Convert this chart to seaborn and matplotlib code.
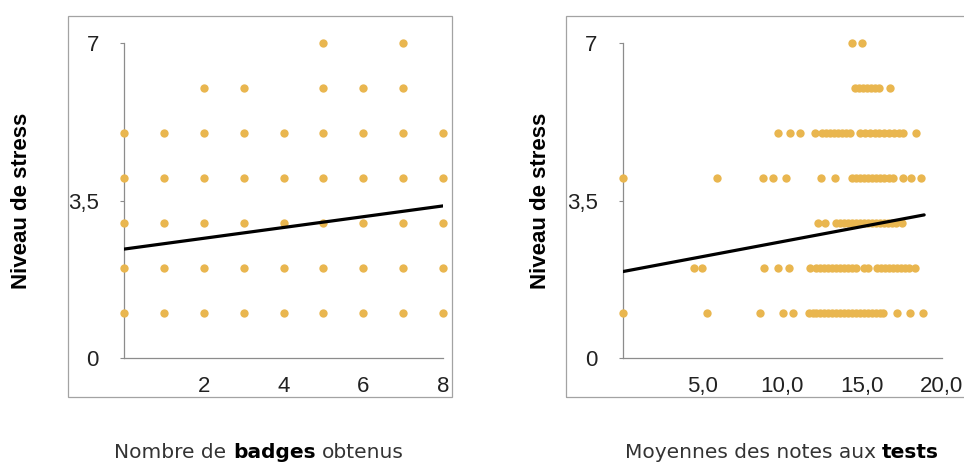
import numpy as np
import pandas as pd
import seaborn as sns
import matplotlib.pyplot as plt
from matplotlib.patches import Rectangle

# --- data ------------------------------------------------------------------
# left panel: badges earned vs stress level (unique points only)
badges_stress1 = [0, 1, 2, 3, 4, 5, 6, 7, 8]
badges_stress2 = [0, 1, 2, 3, 4, 5, 6, 7, 8]
badges_stress3 = [0, 1, 2, 3, 4, 5, 6, 7, 8]
badges_stress4 = [0, 1, 2, 3, 4, 5, 6, 7, 8]
badges_stress5 = [0, 1, 2, 3, 4, 5, 6, 7, 8]
badges_stress6 = [2, 3, 5, 6, 7]
badges_stress7 = [5, 7]
badges_fit_x = [0, 8]
badges_fit_y = [2.42, 3.38]

# right panel: mean test grade vs stress level
tests_stress1 = [0.0, 5.3, 8.6, 10.05, 10.65, 11.65, 11.9, 12.15, 12.4, 12.65,
                 12.9, 13.15, 13.4, 13.65, 13.9, 14.15, 14.4, 14.65, 14.9,
                 15.15, 15.4, 15.65, 15.9, 16.15, 16.35, 17.2, 18.0, 18.85]
tests_stress2 = [4.45, 5.0, 8.85, 9.75, 10.4, 11.75, 12.15, 12.4, 12.65, 12.9,
                 13.15, 13.4, 13.65, 13.9, 14.15, 14.4, 14.65, 15.15, 15.4,
                 15.95, 16.2, 16.45, 16.7, 16.95, 17.2, 17.45, 17.7, 17.95, 18.3]
tests_stress3 = [12.25, 12.7, 13.4, 13.65, 13.9, 14.15, 14.4, 14.65, 14.9,
                 15.15, 15.4, 15.65, 15.9, 16.15, 16.4, 16.65, 16.9, 17.15, 17.5]
tests_stress4 = [0.0, 5.9, 8.8, 9.45, 10.25, 12.45, 13.3, 14.35, 14.6, 14.85,
                 15.1, 15.4, 15.65, 15.9, 16.15, 16.4, 16.7, 16.95, 17.6, 18.1,
                 18.7]
tests_stress5 = [9.75, 10.5, 11.1, 12.05, 12.5, 12.75, 13.0, 13.25, 13.5, 13.75,
                 14.0, 14.25, 14.9, 15.2, 15.5, 15.8, 16.1, 16.4, 16.7, 17.0,
                 17.35, 17.6, 18.4]
tests_stress6 = [14.55, 14.8, 15.05, 15.3, 15.55, 15.8, 16.1, 16.75]
tests_stress7 = [14.4, 15.0]
tests_fit_x = [0, 18.9]
tests_fit_y = [1.92, 3.18]

y_ticks = [0, 3.5, 7]
y_ticklabels = ['0', '3,5', '7']
badges_ticks = [2, 4, 6, 8]
badges_ticklabels = ['2', '4', '6', '8']
tests_ticks = [5, 10, 15, 20]
tests_ticklabels = ['5,0', '10,0', '15,0', '20,0']


def to_frame(levels):
    rows = []
    for stress, xs in enumerate(levels, start=1):
        for x in xs:
            rows.append({'x': x, 'stress': stress})
    return pd.DataFrame(rows)


badges_df = to_frame([badges_stress1, badges_stress2, badges_stress3,
                      badges_stress4, badges_stress5, badges_stress6,
                      badges_stress7])
tests_df = to_frame([tests_stress1, tests_stress2, tests_stress3,
                     tests_stress4, tests_stress5, tests_stress6,
                     tests_stress7])

sns.set_style('white')
plt.rcParams['font.family'] = ['Liberation Sans', 'DejaVu Sans']

W, H = 964, 471
fig = plt.figure(figsize=(W / 100, H / 100), dpi=100)

DOT = '#E9B64F'
SPINE = '#8C8C8C'


def px_axes(x0, x1, y_top, y_bot):
    return fig.add_axes([x0 / W, (H - y_bot) / H, (x1 - x0) / W, (y_bot - y_top) / H])


def style_panel(ax, xmax, xticks, xlabels):
    ax.set_xlim(0, xmax)
    ax.set_ylim(0, 7)
    for side in ['top', 'right']:
        ax.spines[side].set_visible(False)
    for side in ['left', 'bottom']:
        ax.spines[side].set_color(SPINE)
        ax.spines[side].set_linewidth(0.9)
    ax.set_yticks(y_ticks)
    ax.set_yticklabels(y_ticklabels)
    ax.set_xticks(xticks)
    ax.set_xticklabels(xlabels)
    ax.tick_params(axis='y', length=3, width=0.8, color=SPINE, pad=15,
                   labelsize=16, labelcolor='#222222', left=True)
    ax.tick_params(axis='x', length=0, pad=13, labelsize=16,
                   labelcolor='#222222')
    ax.set_xlabel('')
    ax.set_ylabel('')
    ax.patch.set_alpha(0)


# outer chart frames (Excel style)
for fx0, fx1 in [(68, 452), (566, 980)]:
    fig.add_artist(Rectangle((fx0 / W, (H - 397) / H), (fx1 - fx0) / W, 381 / H,
                             transform=fig.transFigure, fill=False,
                             edgecolor='#A3A3A3', linewidth=0.9))

ax1 = px_axes(124, 443, 43, 358)
sns.scatterplot(data=badges_df, x='x', y='stress', ax=ax1, color=DOT, s=36,
                linewidth=0, clip_on=False, zorder=3)
sns.lineplot(x=badges_fit_x, y=badges_fit_y, ax=ax1, color='black',
             linewidth=2.3, zorder=4)
style_panel(ax1, 8, badges_ticks, badges_ticklabels)

ax2 = px_axes(622.7, 941.7, 43, 358)
sns.scatterplot(data=tests_df, x='x', y='stress', ax=ax2, color=DOT, s=36,
                linewidth=0, clip_on=False, zorder=3)
sns.lineplot(x=tests_fit_x, y=tests_fit_y, ax=ax2, color='black',
             linewidth=2.3, zorder=4)
style_panel(ax2, 20, tests_ticks, tests_ticklabels)

# rotated y labels
for xc in [22, 540]:
    fig.text(xc / W, (H - 201) / H, 'Niveau de stress', rotation=90,
             ha='center', va='center', fontsize=16, fontweight='bold',
             color='black')

# x labels with one bold word
renderer = fig.canvas.get_renderer()


def mixed_label(xc, baseline, parts):
    texts = []
    for s, bold in parts:
        t = fig.text(0, (H - baseline) / H, s, fontsize=14.5,
                     family=['DejaVu Sans'],
                     fontweight='bold' if bold else 'normal',
                     color='black' if bold else '#333333',
                     ha='left', va='baseline')
        texts.append(t)
    gap = 14.5 * 0.318 * 100 / 72
    widths = [t.get_window_extent(renderer).width for t in texts]
    total = sum(widths) + gap * (len(texts) - 1)
    x = xc - total / 2
    for t, w in zip(texts, widths):
        t.set_x(x / W)
        x += w + gap


mixed_label(259, 458, [('Nombre de', False), ('badges', True), ('obtenus', False)])
mixed_label(782, 458, [('Moyennes des notes aux', False), ('tests', True)])

fig.savefig('out.png', dpi=100)
